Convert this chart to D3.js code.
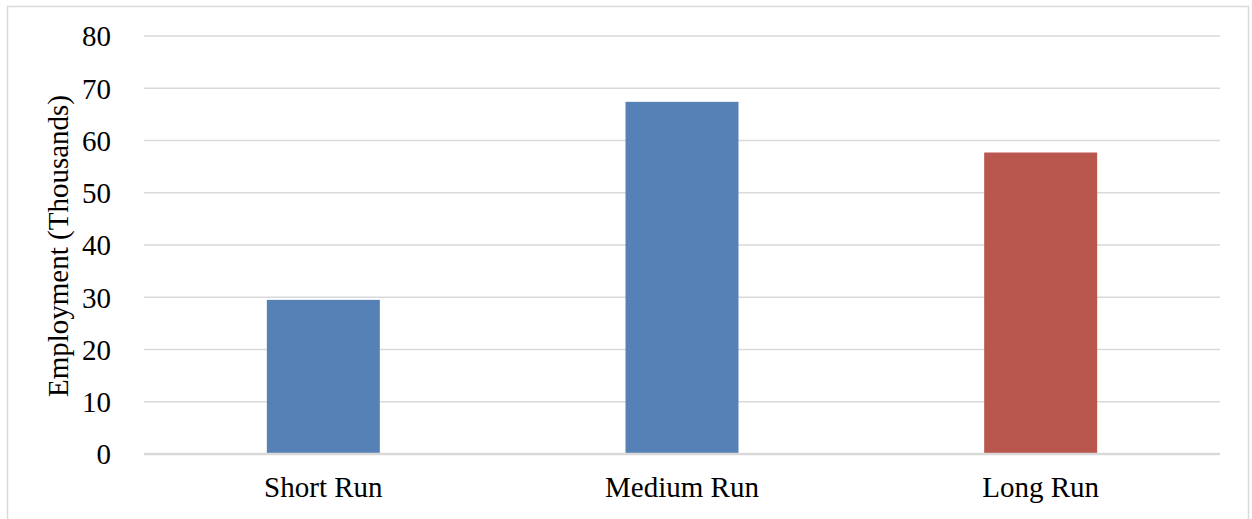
<!DOCTYPE html>
<html>
<head>
<meta charset="utf-8">
<script src="https://cdn.jsdelivr.net/npm/d3@7"></script>
<style>
  html, body { margin: 0; padding: 0; background: #ffffff; }
  svg { display: block; }
  text { font-family: "Liberation Serif", "Times New Roman", serif; fill: #000; }
</style>
</head>
<body>
<svg id="chart" width="1252" height="519"></svg>
<script>
const categories = ["Short Run", "Medium Run", "Long Run"];
const values = [29.5, 67.4, 57.7];
const barColors = ["#5581B6", "#5581B6", "#B9564E"];
const yTicks = [0, 10, 20, 30, 40, 50, 60, 70, 80];
const yLabel = "Employment (Thousands)";

(function () {
const svg = d3.select("#chart");

// outer frame
svg.append("rect")
  .attr("x", 7.5).attr("y", 6.5)
  .attr("width", 1241).attr("height", 530)
  .attr("fill", "#ffffff")
  .attr("stroke", "#d9d9d9").attr("stroke-width", 1.5);

const mLeft = 144, mRight = 1220, mTop = 36, mBottom = 454;

const x = d3.scaleBand().domain(categories).range([mLeft, mRight]).padding(0);
const y = d3.scaleLinear().domain([0, 80]).range([mBottom, mTop]);

// gridlines
svg.append("g").selectAll("line")
  .data(yTicks.filter(d => d !== 0))
  .join("line")
  .attr("x1", mLeft).attr("x2", mRight)
  .attr("y1", d => y(d)).attr("y2", d => y(d))
  .attr("stroke", "#d9d9d9").attr("stroke-width", 1.5);

// bars
const barFrac = 0.315;
svg.append("g").selectAll("rect")
  .data(values)
  .join("rect")
  .attr("x", (d, i) => x(categories[i]) + x.bandwidth() * (1 - barFrac) / 2)
  .attr("width", x.bandwidth() * barFrac)
  .attr("y", d => y(d))
  .attr("height", d => y(0) - y(d))
  .attr("fill", (d, i) => barColors[i]);

// baseline
svg.append("line")
  .attr("x1", mLeft).attr("x2", mRight)
  .attr("y1", y(0)).attr("y2", y(0))
  .attr("stroke", "#d9d9d9").attr("stroke-width", 2.5);

// y axis tick labels
const yAxis = d3.axisLeft(y).tickValues(yTicks).tickSize(0).tickPadding(0);
const gy = svg.append("g").attr("transform", "translate(111,0)").call(yAxis);
gy.select(".domain").remove();
gy.selectAll("text")
  .style("font-family", '"Liberation Serif", "Times New Roman", serif')
  .style("font-size", "29px")
  .attr("fill", "#000")
  .attr("dy", "0.34em");

// x axis labels
const xAxis = d3.axisBottom(x).tickSize(0).tickPadding(0);
const gx = svg.append("g").attr("transform", `translate(0,${mBottom})`).call(xAxis);
gx.select(".domain").remove();
gx.selectAll("text")
  .style("font-family", '"Liberation Serif", "Times New Roman", serif')
  .style("font-size", "29px")
  .attr("fill", "#000")
  .attr("y", 43)
  .attr("dy", 0);

// y axis title
svg.append("text")
  .attr("transform", `translate(68,${(mTop + mBottom) / 2 + 1}) rotate(-90)`)
  .attr("text-anchor", "middle")
  .style("font-size", "29px")
  .text(yLabel);
})();
</script>
</body>
</html>
